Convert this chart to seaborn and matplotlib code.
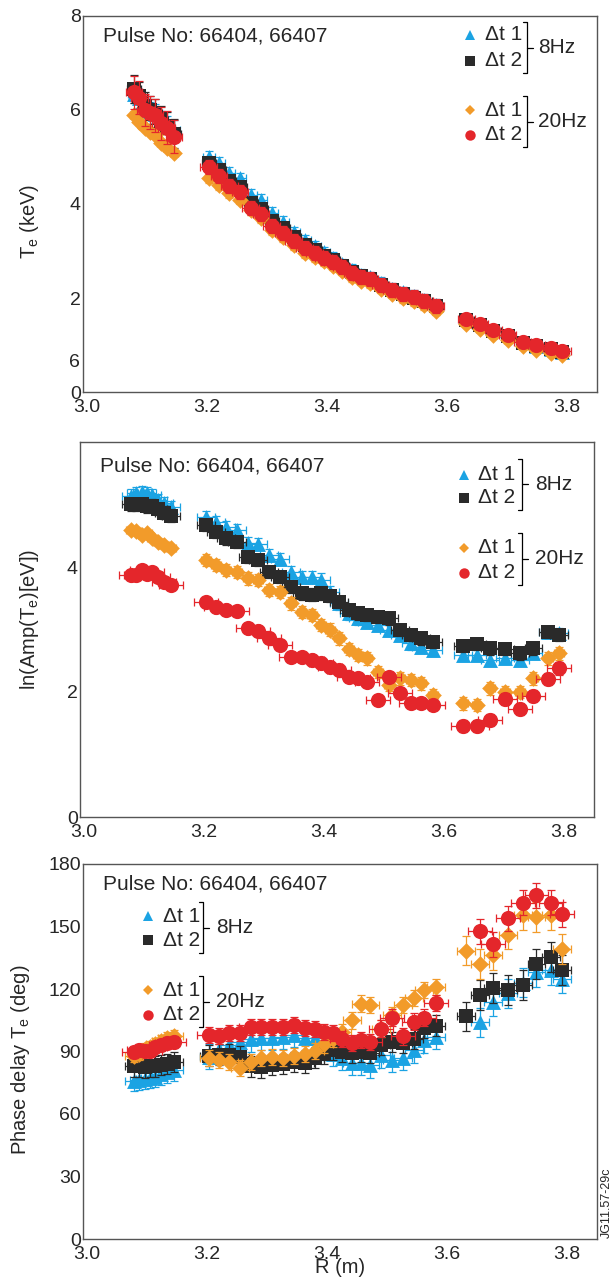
import numpy as np
import pandas as pd
import matplotlib
matplotlib.use("Agg")
import matplotlib.pyplot as plt
import seaborn as sns

# ---------------- data ----------------
R_seg1 = [3.078, 3.087, 3.097, 3.105, 3.113, 3.123, 3.133, 3.145]
R_seg2 = [3.203, 3.220, 3.237, 3.255, 3.273, 3.290, 3.308, 3.327, 3.345, 3.363,
          3.380, 3.395, 3.410, 3.425, 3.442, 3.457, 3.472, 3.490, 3.508, 3.527,
          3.545, 3.563, 3.582]
R_seg3 = [3.633, 3.655, 3.678, 3.702, 3.727, 3.750, 3.775, 3.793]
R = R_seg1 + R_seg2 + R_seg3
seg_len = [len(R_seg1), len(R_seg2), len(R_seg3)]

series_names = ["Δt 1 8Hz", "Δt 2 8Hz", "Δt 1 20Hz", "Δt 2 20Hz"]
nan = np.nan

# Te (keV)
te_blue = [6.35, 6.25, 6.05, 5.98, 5.92, 5.78, 5.68, 5.58,
           5.00, 4.87, 4.66, 4.55, 4.19, 4.09, 3.81, 3.62, 3.40, 3.23, 3.10, 2.97,
           2.85, 2.72, 2.60, 2.50, 2.44, 2.32, 2.20, 2.12, 2.04, 1.96, 1.85,
           1.55, 1.45, 1.32, 1.21, 1.06, 0.98, 0.92, 0.86]
te_black = [6.45, 6.30, 6.08, 6.00, 5.93, 5.78, 5.66, 5.50,
            4.88, 4.72, 4.50, 4.37, 4.02, 3.90, 3.63, 3.48, 3.30, 3.13, 3.02, 2.90,
            2.80, 2.68, 2.55, 2.46, 2.41, 2.28, 2.17, 2.09, 2.01, 1.93, 1.82,
            1.53, 1.43, 1.30, 1.19, 1.04, 0.98, 0.92, 0.86]
te_orange = [5.89, 5.74, 5.62, 5.53, 5.47, 5.30, 5.19, 5.09,
             4.55, 4.40, 4.23, 4.09, 3.87, 3.70, 3.45, 3.30, 3.13, 2.96, 2.87, 2.78,
             2.69, 2.58, 2.45, 2.37, 2.32, 2.20, 2.09, 2.00, 1.93, 1.85, 1.73,
             1.45, 1.35, 1.22, 1.11, 0.97, 0.90, 0.84, 0.78]
te_red = [6.38, 6.26, 6.00, 5.94, 5.89, 5.72, 5.62, 5.43,
          4.79, 4.60, 4.38, 4.26, 3.92, 3.79, 3.53, 3.38, 3.21, 3.06, 2.96, 2.86,
          2.77, 2.66, 2.53, 2.45, 2.40, 2.28, 2.17, 2.09, 2.02, 1.94, 1.83,
          1.55, 1.45, 1.32, 1.21, 1.06, 1.00, 0.94, 0.87]

# ln(Amp(Te)[eV])
ln_blue = [5.14, 5.18, 5.20, 5.18, 5.15, 5.07, 5.02, 4.96,
           4.80, 4.72, 4.64, 4.59, 4.38, 4.37, 4.19, 4.13, 3.92, 3.84, 3.84, 3.80,
           3.60, 3.42, 3.26, 3.18, 3.12, 3.07, 3.00, 2.91, 2.78, 2.72, 2.67,
           2.59, 2.59, 2.51, 2.54, 2.51, 2.62, 2.96, 2.94]
ln_black = [5.00, 4.99, 5.01, 4.97, 4.98, 4.93, 4.87, 4.82,
            4.67, 4.56, 4.46, 4.40, 4.16, 4.11, 3.92, 3.84, 3.68, 3.58, 3.56, 3.58,
            3.54, 3.44, 3.31, 3.26, 3.23, 3.20, 3.18, 2.99, 2.91, 2.86, 2.80,
            2.74, 2.77, 2.70, 2.69, 2.62, 2.70, 2.96, 2.91]
ln_orange = [4.59, 4.58, 4.51, 4.54, 4.46, 4.40, 4.35, 4.30,
             4.11, 4.03, 3.95, 3.92, 3.82, 3.79, 3.63, 3.60, 3.42, 3.28, 3.23, 3.07,
             3.00, 2.86, 2.69, 2.59, 2.54, 2.32, 2.11, 2.22, 2.19, 2.14, 1.95,
             1.82, 1.79, 2.06, 2.00, 2.00, 2.22, 2.54, 2.62]
ln_red = [3.87, 3.87, 3.95, 3.89, 3.92, 3.84, 3.76, 3.71,
          3.44, 3.36, 3.31, 3.30, 3.02, 2.98, 2.86, 2.75, 2.56, 2.56, 2.51, 2.46,
          2.40, 2.35, 2.24, 2.22, 2.16, 1.87, 2.24, 1.98, 1.82, 1.82, 1.79,
          1.46, 1.46, 1.55, 1.89, 1.73, 1.94, 2.21, 2.38]

# Phase delay Te (deg)
ph_blue = [76, 76.5, 77, 77.5, 78, 79, 80, 81,
           87.5, 91, 93, 94.5, 96, 96.5, 96.5, 97, 98, 96.5, 96.5, 92,
           89, 87, 84.5, 84.5, 83.5, 88.3, 86, 87, 90.7, 95.5, 97,
           nan, 104, 114, 118, 123, 128, 129, 125]
ph_black = [83, 83, 82.5, 83, 83, 83.5, 84, 85,
            88, 88.5, 88.5, 87.5, 83, 82.5, 83.5, 84, 85, 84.5, 87, 88.8,
            90.7, 89.8, 89.3, 89.8, 89.3, 93.1, 94.6, 94.1, 96, 101.3, 102.3,
            107, 117.1, 120.5, 119.5, 121.9, 132, 135.4, 129.1]
ph_orange = [88, 89, 91, 92.2, 93.5, 95, 96.5, 97.4,
             86.9, 85.9, 85.0, 82.1, 85.0, 86.9, 87.4, 86.9, 87.8, 88.8, 90.3, 93.5,
             96, 99.2, 105, 113, 112.3, 101, 107.5, 112.3, 115.7, 119.5, 121,
             138.3, 132, 136.3, 146, 155.5, 154.6, 155.5, 139.2]
ph_red = [89.8, 90.7, 90.3, 90.3, 92.2, 93.1, 94.1, 94.6,
          97.9, 97.5, 98.9, 98.9, 101.8, 101.8, 101.8, 101.8, 102.8, 101.3, 100.8, 99.4,
          98.9, 96, 94.1, 95.5, 94.6, 101, 106.3, 97.3, 104.3, 106.3, 113.3,
          nan, 147.8, 141.6, 154, 161.3, 165, 161.3, 156]

# error sizes (one per R segment) for each series: blue, black, orange, red
te_yerr = [[0.20, 0.12, 0.05], [0.30, 0.12, 0.05], [0.05, 0.10, 0.05], [0.35, 0.15, 0.07]]
te_xerr = [0.010, 0.012, 0.006, 0.014]
ln_yerr = [[0.10, 0.10, 0.08], [0.10, 0.10, 0.10], [0.06, 0.10, 0.10], [0.06, 0.08, 0.10]]
ln_xerr = [0.015, 0.015, 0.008, 0.020]
ph_yerr = [[5, 6, 7], [5, 5, 7], [3, 4, 7], [3, 4, 6]]
ph_xerr = [0.015, 0.015, 0.015, 0.020]

# ---------------- style ----------------
sns.set_style("white")
plt.rcParams["font.family"] = ["Liberation Sans", "DejaVu Sans"]
plt.rcParams["mathtext.fontset"] = "custom"
plt.rcParams["mathtext.rm"] = "Liberation Sans"

colors = ["#1BA3E3", "#2A2A2A", "#F29B2A", "#E4262B"]
markers = ["^", "s", "D", "o"]
msize = [115, 100, 72, 120]
leg_ms = [7.5, 6.5, 5.5, 7.5]
W, H = 615, 1286

fig = plt.figure(figsize=(6.15, 12.86), dpi=100)

boxes = [(83, 16, 597, 392), (80, 442, 594, 817), (83, 864, 597, 1239)]
axes = []
for (x0, y0, x1, y1) in boxes:
    axes.append(fig.add_axes([x0 / W, 1 - y1 / H, (x1 - x0) / W, (y1 - y0) / H]))


def fx(box, px):
    return (px - box[0]) / (box[2] - box[0])


def fy(box, py):
    return (box[3] - py) / (box[3] - box[1])


def draw_panel(ax, vals, yerrs, xerrs):
    for i, (name, v) in enumerate(zip(series_names, vals)):
        yerr = np.repeat(yerrs[i], seg_len)
        df = pd.DataFrame({"R": R, "val": v, "series": name})
        ax.errorbar(df["R"], df["val"], yerr=yerr, xerr=xerrs[i], fmt="none",
                    ecolor=colors[i], elinewidth=0.9, capsize=2.6, capthick=0.9,
                    zorder=2 + 2 * i)
        sns.scatterplot(data=df, x="R", y="val", ax=ax, color=colors[i],
                        marker=markers[i], s=msize[i], linewidth=0, zorder=3 + 2 * i,
                        legend=False)


def style_axis(ax):
    for sp in ax.spines.values():
        sp.set_color("#555555")
        sp.set_linewidth(1.0)
    ax.set_xlim(2.993, 3.851)
    ax.set_xticks([3.0, 3.2, 3.4, 3.6, 3.8])
    ax.set_xticklabels(["3.0", "3.2", "3.4", "3.6", "3.8"])
    ax.tick_params(axis="both", which="both", direction="in", color="#555555",
                   labelsize=14, width=0.9)
    ax.tick_params(axis="both", which="major", length=7)
    ax.tick_params(axis="both", which="minor", length=7)
    ax.tick_params(axis="x", pad=5)
    ax.tick_params(axis="y", pad=1.5)
    ax.set_xlabel("")
    ax.set_ylabel("")


def legend_block(ax, box, mx, tx, y_items, bx, by, hz_x, hz_label):
    for (py, i, lab) in y_items:
        ax.plot([fx(box, mx)], [fy(box, py)], marker=markers[i], color=colors[i],
                markersize=leg_ms[i], linestyle="none", transform=ax.transAxes,
                clip_on=False, markeredgewidth=0)
        ax.text(fx(box, tx), fy(box, py), lab, transform=ax.transAxes, fontsize=15,
                ha="left", va="center")
    top, bot = by
    mid = (top + bot) / 2
    xs = [fx(box, bx - 4), fx(box, bx), fx(box, bx), fx(box, bx - 4)]
    ys = [fy(box, top), fy(box, top), fy(box, bot), fy(box, bot)]
    ax.plot(xs, ys, color="black", lw=0.9, transform=ax.transAxes, clip_on=False)
    ax.plot([fx(box, bx), fx(box, bx + 6)], [fy(box, mid), fy(box, mid)], color="black",
            lw=0.9, transform=ax.transAxes, clip_on=False)
    ax.text(fx(box, hz_x), fy(box, mid), hz_label, transform=ax.transAxes, fontsize=15,
            ha="left", va="center")


# ---- top panel ----
ax = axes[0]
draw_panel(ax, [te_blue, te_black, te_orange, te_red], te_yerr, te_xerr)
style_axis(ax)
ax.set_ylim(0, 8)
ax.set_yticks([0, 2, 4, 6, 8])
ax.set_yticks([1, 3, 5, 7], minor=True)
ax.text(-0.006, 0.62 / 8, "6", transform=ax.transAxes, fontsize=14, ha="right", va="center")
ax.set_ylabel(r"T$_\mathregular{e}$ (keV)", fontsize=14.5)
ax.yaxis.set_label_coords(-0.082, 0.455)
b = boxes[0]
ax.text(fx(b, 103), fy(b, 36), "Pulse No: 66404, 66407", transform=ax.transAxes,
        fontsize=15, ha="left", va="center")
legend_block(ax, b, 470, 485, [(35, 0, "Δt 1"), (61, 1, "Δt 2")], 527, (22, 73), 538, "8Hz")
legend_block(ax, b, 470, 485, [(110, 2, "Δt 1"), (135, 3, "Δt 2")], 527, (96, 147), 538, "20Hz")

# ---- middle panel ----
ax = axes[1]
draw_panel(ax, [ln_blue, ln_black, ln_orange, ln_red], ln_yerr, ln_xerr)
style_axis(ax)
ax.set_ylim(0, 6)
ax.set_yticks([0, 2, 4])
ax.set_yticks([1, 3, 5], minor=True)
ax.set_ylabel(r"ln(Amp(T$_\mathregular{e}$)[eV])", fontsize=14.5)
ax.yaxis.set_label_coords(-0.076, 0.528)
b = boxes[1]
ax.text(fx(b, 100), fy(b, 466), "Pulse No: 66404, 66407", transform=ax.transAxes,
        fontsize=15, ha="left", va="center")
legend_block(ax, b, 464, 478, [(475, 0, "Δt 1"), (498, 1, "Δt 2")], 522, (459, 510), 535, "8Hz")
legend_block(ax, b, 464, 478, [(548, 2, "Δt 1"), (573, 3, "Δt 2")], 522, (533, 585), 535, "20Hz")

# ---- bottom panel ----
ax = axes[2]
draw_panel(ax, [ph_blue, ph_black, ph_orange, ph_red], ph_yerr, ph_xerr)
style_axis(ax)
ax.set_ylim(0, 180)
ax.set_yticks([0, 30, 60, 90, 120, 150, 180])
ax.set_ylabel(r"Phase delay T$_\mathregular{e}$ (deg)", fontsize=14.5)
ax.yaxis.set_label_coords(-0.100, 0.477)
ax.set_xlabel("R (m)", fontsize=14.5)
ax.xaxis.set_label_coords(0.5, -0.05)
ax.xaxis.label.set_va("top")
b = boxes[2]
ax.text(fx(b, 103), fy(b, 884), "Pulse No: 66404, 66407", transform=ax.transAxes,
        fontsize=15, ha="left", va="center")
legend_block(ax, b, 148, 163, [(916, 0, "Δt 1"), (940, 1, "Δt 2")], 203, (902, 953), 216, "8Hz")
legend_block(ax, b, 148, 163, [(990, 2, "Δt 1"), (1015, 3, "Δt 2")], 203, (976, 1027), 216, "20Hz")

fig.text(607 / W, 1 - 1203 / H, "JG11.57-29c", rotation=90, fontsize=9,
         ha="center", va="center")

fig.savefig("out.png", dpi=100)
